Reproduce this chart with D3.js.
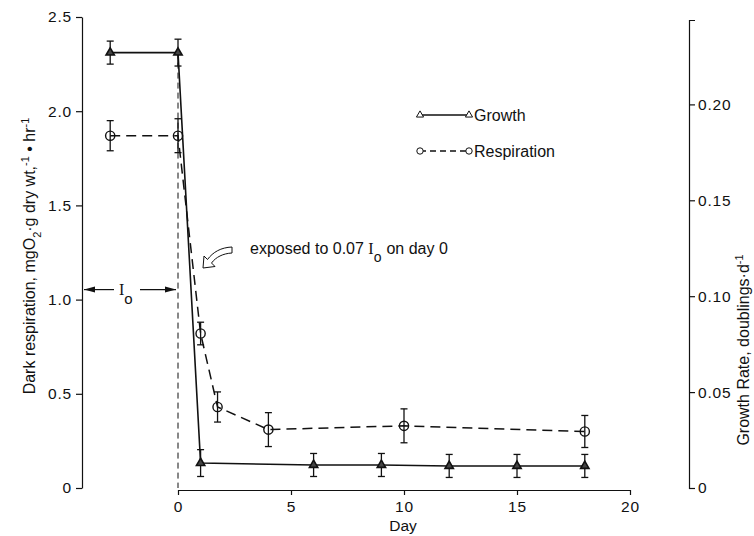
<!DOCTYPE html>
<html><head><meta charset="utf-8">
<script src="https://cdn.jsdelivr.net/npm/d3@7"></script>
<style>
body{margin:0;background:#fff}
svg{display:block}
text{font-family:"Liberation Sans",Arial,sans-serif;fill:#111}
</style>
</head><body>
<svg id="c" width="754" height="536"></svg>
<script>
// ---- data ----
const growthDays = [-3, 0, 1, 6, 9, 12, 15, 18];
const growthRate = [0.227, 0.227, 0.013, 0.012, 0.012, 0.0115, 0.0115, 0.0115];
const growthErr  = [0.006, 0.007, 0.007, 0.006, 0.006, 0.006, 0.006, 0.006];
const respDays   = [-3, 0, 1, 1.75, 4, 10, 18];
const respValues = [1.87, 1.87, 0.82, 0.43, 0.31, 0.33, 0.30];
const respErr    = [0.08, 0.09, 0.06, 0.08, 0.09, 0.09, 0.085];
const dayTicks    = [0, 5, 10, 15, 20];
const respTicks   = [0, 0.5, 1.0, 1.5, 2.0, 2.5];
const growthTicks = [0, 0.05, 0.10, 0.15, 0.20];
const legendLabels = ["Growth", "Respiration"];

const svg = d3.select("#c");
const x  = d3.scaleLinear().domain([0, 20]).range([178, 630]);
const yL = d3.scaleLinear().domain([0, 2.5]).range([488, 17]);
const yR = d3.scaleLinear().domain([0, 0.244]).range([488, 20]);

const ink = "#111";
const FONT = '"Liberation Sans",Arial,sans-serif';

// axes
const fmtL = d => d === 0 ? "0" : d3.format(".1f")(d);
const fmtR = d => d === 0 ? "0" : d3.format(".2f")(d);

const gL = svg.append("g").attr("transform", "translate(82,0)")
  .call(d3.axisLeft(yL).tickValues(respTicks).tickFormat(fmtL).tickSize(6).tickSizeOuter(0).tickPadding(4));
const gR = svg.append("g").attr("transform", "translate(689,0)")
  .call(d3.axisRight(yR).tickValues(growthTicks).tickFormat(fmtR).tickSize(6).tickSizeOuter(6).tickPadding(3));
const gX = svg.append("g").attr("transform", "translate(0,490)")
  .call(d3.axisBottom(x).tickValues(dayTicks).tickSize(5).tickSizeOuter(0).tickPadding(6));
[gL, gR, gX].forEach(g => {
  g.selectAll("path,line").attr("stroke", ink).attr("stroke-width", 1.2);
  g.selectAll("text").style("font-size", "15.5px").attr("fill", ink)
    .style("letter-spacing", "0.8px").style("font-family", FONT);
});

// axis titles
svg.append("text").attr("x", 403).attr("y", 531).attr("text-anchor", "middle")
  .style("font-size", "15.5px").text("Day");

const tl = svg.append("text").attr("transform", "translate(35,256) rotate(-90)")
  .attr("text-anchor", "middle").style("font-size", "16px");
tl.append("tspan").text("Dark respiration, mgO");
tl.append("tspan").attr("baseline-shift", "sub").style("font-size", "11px").text("2");
tl.append("tspan").text("\u00b7g dry wt,");
tl.append("tspan").attr("baseline-shift", "super").style("font-size", "11px").text("-1");
tl.append("tspan").text(" \u2022 hr");
tl.append("tspan").attr("baseline-shift", "super").style("font-size", "11px").text("-1");

const tr = svg.append("text").attr("transform", "translate(749,350) rotate(-90)")
  .attr("text-anchor", "middle").style("font-size", "16px");
tr.append("tspan").text("Growth Rate, doublings\u00b7d");
tr.append("tspan").attr("baseline-shift", "super").style("font-size", "11px").text("-1");

// dashed vertical line at day 0
svg.append("line").attr("x1", x(0)).attr("x2", x(0))
  .attr("y1", yR(growthRate[1])).attr("y2", 488)
  .attr("stroke", ink).attr("stroke-width", 1).attr("stroke-dasharray", "6,4");

// I0 double arrow
const arrY = yL(1.0) - 10;
svg.append("line").attr("x1", 84).attr("x2", 114).attr("y1", arrY).attr("y2", arrY).attr("stroke", ink).attr("stroke-width", 1.2);
svg.append("line").attr("x1", 140).attr("x2", 176).attr("y1", arrY).attr("y2", arrY).attr("stroke", ink).attr("stroke-width", 1.2);
svg.append("path").attr("d", `M84,${arrY} L95,${arrY-3} L95,${arrY+3} Z`).attr("fill", ink);
svg.append("path").attr("d", `M176,${arrY} L165,${arrY-3} L165,${arrY+3} Z`).attr("fill", ink);
const io = svg.append("text").attr("x", 119).attr("y", arrY + 5).style("font-size", "16px");
io.append("tspan").style("font-family", '"Liberation Serif",serif').text("I");
io.append("tspan").attr("baseline-shift", "sub").style("font-size", "15px").text("o");

// annotation
const an = svg.append("text").attr("x", 250).attr("y", 254).style("font-size", "16px");
an.append("tspan").text("exposed to 0.07 ");
an.append("tspan").style("font-family", '"Liberation Serif",serif').text("I");
an.append("tspan").attr("baseline-shift", "sub").style("font-size", "14px").text("o");
an.append("tspan").attr("dx", 5).text("on day 0");
svg.append("path")
  .attr("d", "M203,268 L204,256 L207.5,259.5 C213,252 221,247.5 232,247 L232,253 C223,253.5 216,257 211.5,263 L215,266.5 Z")
  .attr("fill", "#fff").attr("stroke", ink).attr("stroke-width", 1);

// series lines
const lineR = d3.line().x(d => x(d[0])).y(d => yL(d[1]));
const lineG = d3.line().x(d => x(d[0])).y(d => yR(d[1]));
svg.append("path").datum(respDays.map((d, i) => [d, respValues[i]]))
  .attr("d", lineR).attr("fill", "none").attr("stroke", ink).attr("stroke-width", 1.5)
  .attr("stroke-dasharray", "10,6");
svg.append("path").datum(growthDays.map((d, i) => [d, growthRate[i]]))
  .attr("d", lineG).attr("fill", "none").attr("stroke", ink).attr("stroke-width", 1.6);

// error bars
function errBars(days, vals, errs, y) {
  const g = svg.append("g").attr("stroke", ink).attr("stroke-width", 1.3);
  days.forEach((d, i) => {
    const cx = x(d), y1 = y(vals[i] + errs[i]), y2 = y(vals[i] - errs[i]);
    g.append("line").attr("x1", cx).attr("x2", cx).attr("y1", y1).attr("y2", y2);
    g.append("line").attr("x1", cx - 3.5).attr("x2", cx + 3.5).attr("y1", y1).attr("y2", y1);
    g.append("line").attr("x1", cx - 3.5).attr("x2", cx + 3.5).attr("y1", y2).attr("y2", y2);
  });
}
errBars(respDays, respValues, respErr, yL);
errBars(growthDays, growthRate, growthErr, yR);

// markers
const tri = d3.symbol().type(d3.symbolTriangle).size(30);
svg.append("g").selectAll("path").data(growthDays).join("path")
  .attr("transform", (d, i) => `translate(${x(d)},${yR(growthRate[i])})`)
  .attr("d", tri).attr("fill", "#444").attr("stroke", ink).attr("stroke-width", 1.6);
svg.append("g").selectAll("circle").data(respDays).join("circle")
  .attr("cx", d => x(d)).attr("cy", (d, i) => yL(respValues[i])).attr("r", 4.6)
  .attr("fill", "none").attr("stroke", ink).attr("stroke-width", 1.4);

// legend
const lg = svg.append("g");
const lx1 = 420, lx2 = 469;
[115, 151].forEach((ly, k) => {
  lg.append("line").attr("x1", lx1).attr("x2", lx2).attr("y1", ly).attr("y2", ly)
    .attr("stroke", ink).attr("stroke-width", 1.3).attr("stroke-dasharray", k ? "6,4" : null);
  [lx1, lx2].forEach(px => {
    if (k === 0) lg.append("path").attr("transform", `translate(${px},${ly})`)
      .attr("d", d3.symbol().type(d3.symbolTriangle).size(22)).attr("fill", "#fff").attr("stroke", ink);
    else lg.append("circle").attr("cx", px).attr("cy", ly).attr("r", 3.2).attr("fill", "#fff").attr("stroke", ink);
  });
  lg.append("text").attr("x", lx2 + 5).attr("y", ly + 5.5).style("font-size", "16px").text(legendLabels[k]);
});
</script>
</body></html>
